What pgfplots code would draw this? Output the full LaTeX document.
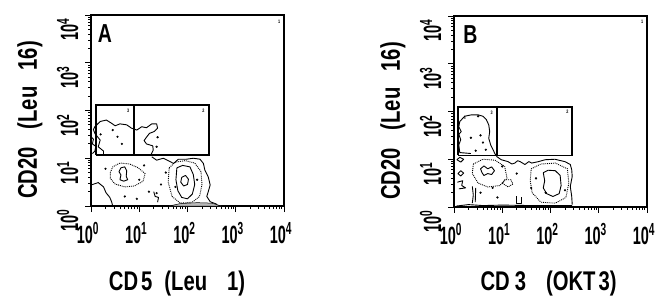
\documentclass[border=0pt]{standalone}
\usepackage{fontspec}
\setmainfont{Liberation Sans}[FakeStretch=0.75]
\newfontfamily\tickfont{Liberation Sans}[FakeStretch=0.58]
\usepackage{pgfplots}
\pgfplotsset{compat=1.18}
\newcommand\tl[1]{{\tickfont\fontsize{25}{25}\selectfont\bfseries 10\textsuperscript{#1}}}
\pgfplotsset{
  cyto/.style={
    scale only axis, width=193pt, height=191pt,
    xmin=0, xmax=4, ymin=0, ymax=4,
    xtick={0,1,2,3,4}, ytick={0,1,2,3,4},
    xticklabels={\tl{0},\tl{1},\tl{2},\tl{3},\tl{4}},
    yticklabels={\tl{0},\tl{1},\tl{2},\tl{3},\tl{4}},
    minor xtick={0.301,0.477,0.602,0.699,0.778,0.845,0.903,0.954,1.301,1.477,1.602,1.699,1.778,1.845,1.903,1.954,2.301,2.477,2.602,2.699,2.778,2.845,2.903,2.954,3.301,3.477,3.602,3.699,3.778,3.845,3.903,3.954},
    minor ytick={0.301,0.477,0.602,0.699,0.778,0.845,0.903,0.954,1.301,1.477,1.602,1.699,1.778,1.845,1.903,1.954,2.301,2.477,2.602,2.699,2.778,2.845,2.903,2.954,3.301,3.477,3.602,3.699,3.778,3.845,3.903,3.954},
    tick align=outside, tick pos=left,
    major tick length=6pt, minor tick length=3pt,
    axis line style={line width=1.2pt},
    every tick/.style={black, line width=0.8pt},
    xticklabel style={anchor=north, yshift=-7pt, xshift=-3pt},
    yticklabel style={rotate=90, anchor=south east, yshift=3pt},
    label style={font=\fontsize{27}{27}\selectfont\bfseries},
    clip=false,
    cont/.style={black, line width=0.9pt, line join=round},
    dcont/.style={black, line width=0.9pt, densely dotted},
    gate/.style={black, line width=1.7pt},
    dots/.style={only marks, mark=*, mark size=0.9pt, black},
  }
}
\begin{document}
\begin{tikzpicture}
\useasboundingbox (0,0) rectangle (665pt,295pt);
% ---------------- Panel A ----------------
\begin{axis}[cyto, at={(91pt,89pt)}, anchor=south west,
  xlabel={CD\hspace{3pt}5\hspace{12pt}(Leu\hspace{20pt}1)},
  xlabel style={at={(axis description cs:0.446,0)}, anchor=base, yshift=-84pt},
  ylabel={CD20\hspace{18pt}(Leu\hspace{16pt}16)},
  ylabel style={at={(axis description cs:-0.28,0.45)}, anchor=base}]
% gates
\addplot[gate] coordinates {(0.10,1.07) (2.45,1.07) (2.45,2.11) (0.10,2.11) (0.10,1.07)};
\addplot[gate] coordinates {(0.89,1.07) (0.89,2.11)};
% upper population
\addplot[cont] coordinates {(0.26,1.07) (0.26,1.15) (0.15,1.24) (0.19,1.38) (0.08,1.52) (0.05,1.60) (0.08,1.66) (0.19,1.77) (0.32,1.80) (0.43,1.73) (0.50,1.68) (0.60,1.72) (0.74,1.70) (0.84,1.63) (0.95,1.59) (1.05,1.66) (1.15,1.64) (1.26,1.72) (1.36,1.72) (1.38,1.63) (1.31,1.56) (1.21,1.52) (1.15,1.44) (1.10,1.37) (1.15,1.30) (1.28,1.26) (1.29,1.17) (1.24,1.07)};
\addplot[cont] coordinates {(0.0,1.45) (0.05,1.40) (0.03,1.30) (0.10,1.25) (0.08,1.15) (0.03,1.10)};
% lower population outer
\addplot[cont] coordinates {(1.26,1.03) (1.36,0.96) (1.50,1.00) (1.64,0.93) (1.71,0.89) (1.81,0.98) (1.98,0.98) (2.12,1.00) (2.26,0.98) (2.33,0.89) (2.36,0.75) (2.43,0.61) (2.47,0.44) (2.43,0.30) (2.40,0.20) (2.47,0.09) (2.60,0.04) (2.62,0.0)};
\addplot[cont] coordinates {(0.0,0.44) (0.15,0.49) (0.26,0.40) (0.31,0.28) (0.39,0.18) (0.43,0.08) (0.45,0.0)};
% left cluster
\addplot[cont] coordinates {(0.62,0.80) (0.70,0.82) (0.74,0.74) (0.73,0.62) (0.76,0.55) (0.68,0.52) (0.60,0.55) (0.62,0.65) (0.58,0.72) (0.62,0.80)};
\addplot[dcont] coordinates {(0.40,0.70) (0.45,0.82) (0.60,0.90) (0.80,0.88) (0.98,0.80) (1.12,0.68) (1.08,0.52) (0.90,0.42) (0.70,0.40) (0.50,0.46) (0.40,0.58) (0.40,0.70)};
% right cluster
\addplot[cont] coordinates {(1.78,0.80) (1.90,0.85) (2.05,0.82) (2.12,0.66) (2.15,0.45) (2.10,0.25) (2.00,0.15) (1.88,0.18) (1.80,0.32) (1.76,0.55) (1.78,0.80)};
\addplot[cont] coordinates {(1.88,0.60) (1.96,0.64) (2.02,0.56) (2.00,0.45) (1.92,0.42) (1.86,0.50) (1.88,0.60)};
\addplot[dcont] coordinates {(1.62,0.80) (1.75,0.92) (1.95,0.95) (2.15,0.90) (2.28,0.72) (2.30,0.45) (2.25,0.20) (2.10,0.08) (1.85,0.06) (1.68,0.20) (1.60,0.50) (1.62,0.80)};
\addplot[black, fill=gray!55, line width=0.5pt] coordinates {(1.62,0.0) (1.85,0.05) (2.20,0.07) (2.50,0.06) (2.70,0.0) (1.62,0.0)};
\addplot[cont] coordinates {(1.30,0.30) (1.33,0.20) (1.40,0.18) (1.38,0.08)};
\addplot[dots] coordinates {(0.45,1.59) (0.64,1.30) (1.38,1.44) (1.36,1.24) (1.36,0.27) (0.70,0.20) (0.95,0.15) (1.00,0.55) (1.55,0.70) (1.45,0.45) (0.30,0.78) (1.20,0.30) (2.20,0.55) (0.20,1.50) (0.55,1.45) (1.10,0.85) (1.75,0.40)};
% quadrant numbers
\node[font=\tiny\bfseries] at (axis cs:3.90,3.86) {1};
\node[font=\tiny\bfseries] at (axis cs:2.33,2.00) {2};
\node[font=\tiny\bfseries] at (axis cs:0.77,2.00) {3};
\node[anchor=south west, inner sep=0pt, font=\fontsize{26}{26}\selectfont\bfseries] at (axis cs:0.14,3.41) {A};
\end{axis}
% ---------------- Panel B ----------------
\begin{axis}[cyto, at={(454pt,88pt)}, anchor=south west,
  xlabel={CD\hspace{5pt}3\hspace{20pt}(OKT\hspace{3pt}3)},
  xlabel style={at={(axis description cs:0.49,0)}, anchor=base, yshift=-83pt},
  ylabel={CD20\hspace{18pt}(Leu\hspace{16pt}16)},
  ylabel style={at={(axis description cs:-0.28,0.45)}, anchor=base}]
\addplot[gate] coordinates {(0.08,1.08) (2.45,1.08) (2.45,2.10) (0.08,2.10) (0.08,1.08)};
\addplot[gate] coordinates {(0.89,1.08) (0.89,2.10)};
% upper population
\addplot[cont] coordinates {(0.35,1.12) (0.12,1.14) (0.10,1.30) (0.14,1.41) (0.10,1.52) (0.15,1.58) (0.10,1.68) (0.12,1.79) (0.22,1.90) (0.36,1.93) (0.50,1.93) (0.60,1.90) (0.67,1.83) (0.72,1.72) (0.74,1.58) (0.72,1.44) (0.76,1.30) (0.81,1.20) (0.85,1.11) (0.88,1.08)};
% lower population outer
\addplot[cont] coordinates {(0.88,1.06) (0.98,0.99) (1.12,0.95) (1.20,0.90) (1.26,0.92) (1.32,0.97) (1.37,0.95) (1.47,0.89) (1.55,0.95) (1.61,0.92) (1.75,0.95) (1.89,0.99) (2.09,1.00) (2.30,0.95) (2.41,0.89) (2.44,0.78) (2.45,0.64) (2.41,0.43) (2.44,0.22) (2.45,0.05)};
% right cluster
\addplot[cont] coordinates {(1.85,0.72) (1.95,0.77) (2.10,0.76) (2.20,0.66) (2.22,0.45) (2.18,0.28) (2.05,0.22) (1.92,0.28) (1.85,0.40) (1.88,0.55) (1.85,0.72)};
\addplot[dcont] coordinates {(1.60,0.80) (1.80,0.90) (2.10,0.92) (2.35,0.80) (2.38,0.50) (2.32,0.20) (2.10,0.08) (1.80,0.10) (1.62,0.30) (1.58,0.55) (1.60,0.80)};
% left cluster
\addplot[cont] coordinates {(0.55,0.80) (0.62,0.86) (0.70,0.80) (0.78,0.84) (0.84,0.76) (0.78,0.68) (0.70,0.70) (0.62,0.66) (0.58,0.72) (0.55,0.80)};
\addplot[dcont] coordinates {(0.40,0.90) (0.60,1.00) (0.85,0.98) (1.05,0.85) (1.10,0.60) (0.95,0.45) (0.70,0.42) (0.50,0.50) (0.38,0.70) (0.40,0.90)};
\addplot[dcont] coordinates {(1.00,0.50) (1.05,0.57) (1.18,0.57) (1.22,0.48) (1.12,0.42) (1.00,0.50)};
% small left contours
\addplot[cont] coordinates {(0.06,0.99) (0.12,1.04) (0.20,1.00) (0.14,0.94) (0.06,0.99)};
\addplot[cont] coordinates {(0.08,0.70) (0.14,0.76) (0.20,0.71) (0.14,0.65) (0.08,0.70)};
\addplot[cont] coordinates {(0.07,0.52) (0.18,0.55) (0.16,0.45) (0.24,0.40) (0.10,0.38)};
\addplot[cont] coordinates {(0.38,0.43) (0.40,0.25) (0.38,0.08)};
\addplot[cont] coordinates {(0.45,0.40) (0.44,0.10)};
\addplot[cont] coordinates {(1.30,0.22) (1.30,0.08) (1.40,0.08) (1.40,0.20)};
\addplot[cont] coordinates {(0.05,0.02) (0.30,0.05) (0.60,0.03) (1.00,0.04) (1.60,0.03) (2.45,0.03)};
\addplot[dots] coordinates {(0.50,1.90) (0.35,1.45) (0.55,1.50) (0.60,1.35) (0.45,1.18) (0.66,1.20) (1.00,0.85) (0.80,0.40) (1.60,0.40) (1.90,0.30) (0.55,0.30) (2.30,0.35) (1.30,0.70) (0.90,0.20) (1.70,0.60)};
\node[font=\tiny\bfseries] at (axis cs:3.90,3.88) {1};
\node[font=\tiny\bfseries] at (axis cs:2.35,2.00) {2};
\node[font=\tiny\bfseries] at (axis cs:0.78,1.97) {3};
\node[font=\tiny\bfseries] at (axis cs:0.22,1.86) {4};
\node[anchor=south west, inner sep=0pt, font=\fontsize{26}{26}\selectfont\bfseries] at (axis cs:0.19,3.41) {B};
\end{axis}
\end{tikzpicture}
\end{document}
